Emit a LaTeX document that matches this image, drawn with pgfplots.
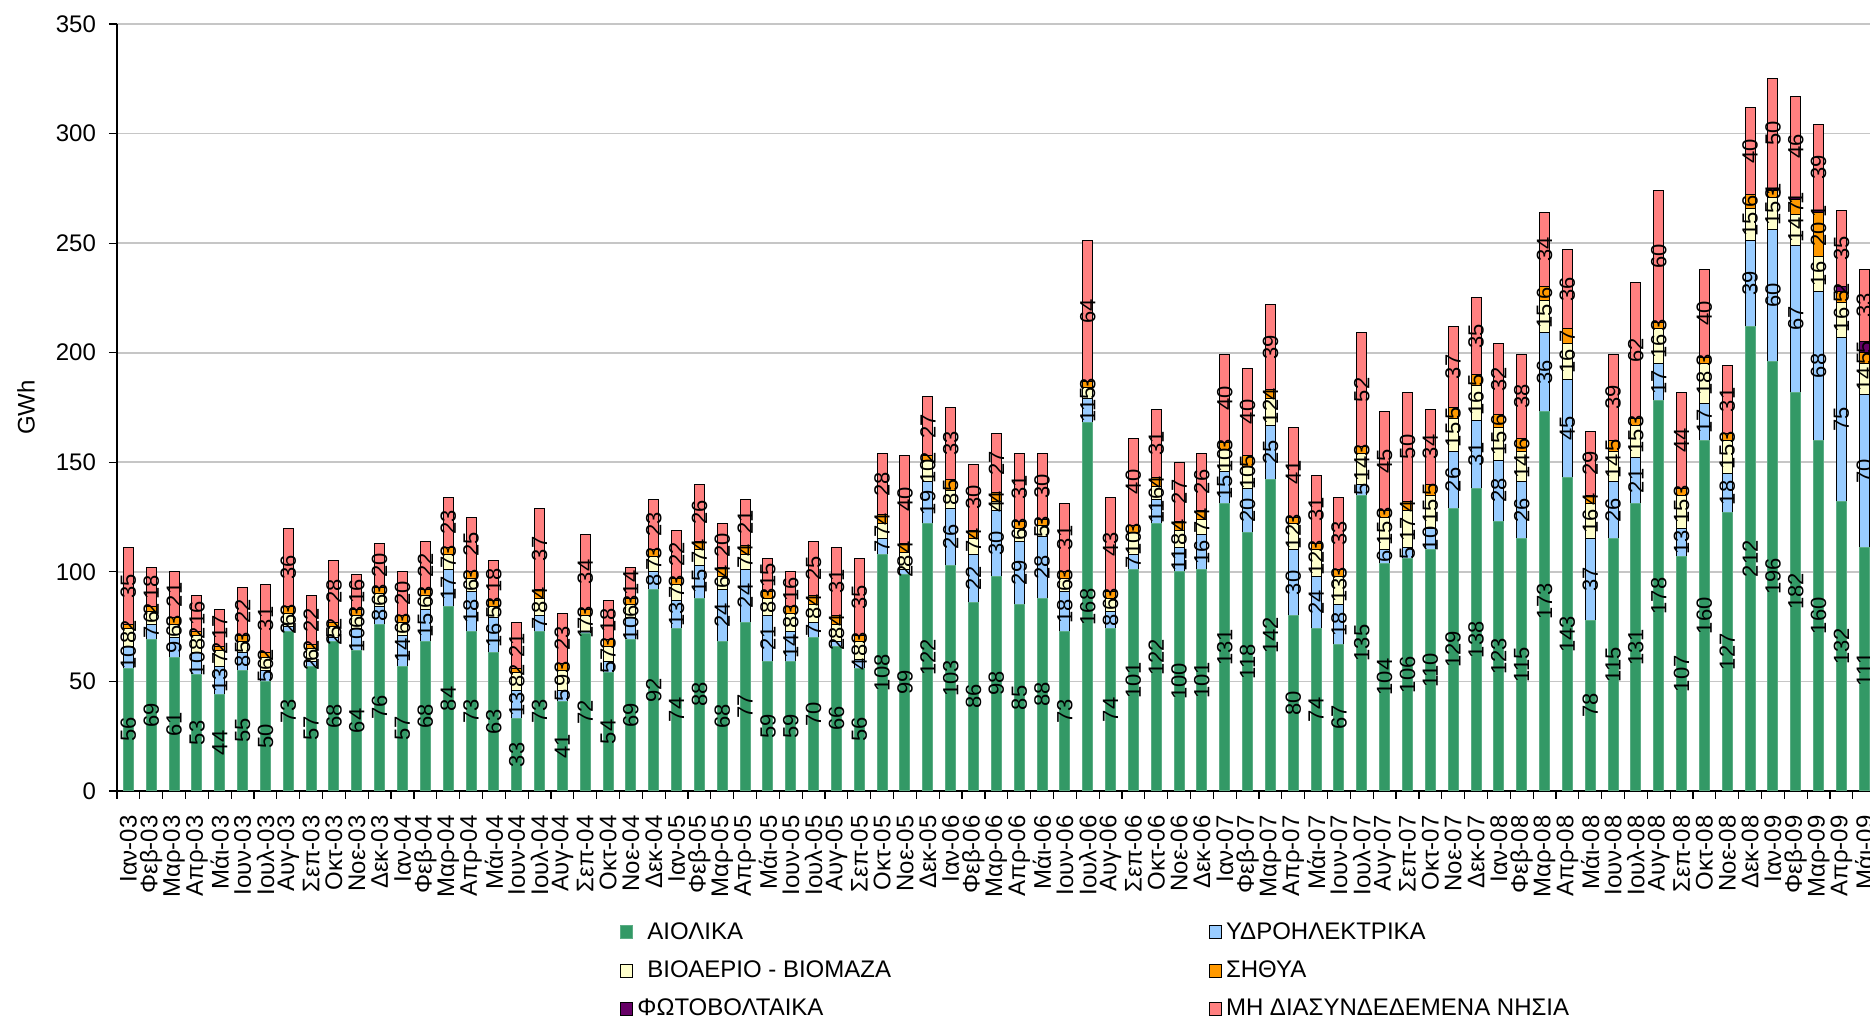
\documentclass[border=0pt]{standalone}
\usepackage{fontspec}
\setmainfont{Liberation Sans}
\usepackage{pgfplots}
\usepackage{pgfplotstable}
\pgfplotsset{compat=1.18}

\definecolor{wind}{HTML}{339966}
\definecolor{hydro}{HTML}{99CCFF}
\definecolor{bio}{HTML}{FFFFCC}
\definecolor{chp}{HTML}{FF9900}
\definecolor{pv}{HTML}{660066}
\definecolor{isl}{HTML}{FF8080}

% monthly GWh: wind, hydro, biogas-biomass, CHP, PV, non-interconnected islands
\pgfplotstableread{
x wi hy bm ch pvv is
0 56 10 8 2 0 35
1 69 7 6 2 0 18
2 61 9 6 3 0 21
3 53 10 8 2 0 16
4 44 13 7 2 0 17
5 55 8 5 3 0 22
6 50 5 6 2 0 31
7 73 2 6 3 0 36
8 57 2 6 2 0 22
9 68 2 5 2 0 28
10 64 10 6 3 0 16
11 76 8 6 3 0 20
12 57 14 6 3 0 20
13 68 15 6 3 0 22
14 84 17 7 3 0 23
15 73 18 6 3 0 25
16 63 16 5 3 0 18
17 33 13 8 2 0 21
18 73 7 8 4 0 37
19 41 5 9 3 0 23
20 72 1 7 3 0 34
21 54 5 7 3 0 18
22 69 10 6 3 0 14
23 92 8 7 3 0 23
24 74 13 7 3 0 22
25 88 15 7 4 0 26
26 68 24 6 4 0 20
27 77 24 7 4 0 21
28 59 21 8 3 0 15
29 59 14 8 3 0 16
30 70 7 8 4 0 25
31 66 2 8 4 0 31
32 56 4 8 3 0 35
33 108 7 7 4 0 28
34 99 2 8 4 0 40
35 122 19 10 2 0 27
36 103 26 8 5 0 33
37 86 22 7 4 0 30
38 98 30 4 4 0 27
39 85 29 6 3 0 31
40 88 28 5 3 0 30
41 73 18 6 3 0 31
42 168 11 5 3 0 64
43 74 8 6 3 0 43
44 101 7 10 3 0 40
45 122 11 6 4 0 31
46 100 11 8 4 0 27
47 101 16 7 4 0 26
48 131 15 10 3 0 40
49 118 20 10 5 0 40
50 142 25 12 4 0 39
51 80 30 12 3 0 41
52 74 24 12 3 0 31
53 67 18 13 3 0 33
54 135 5 14 3 0 52
55 104 6 15 3 0 45
56 106 5 17 4 0 50
57 110 10 15 5 0 34
58 129 26 15 5 0 37
59 138 31 16 5 0 35
60 123 28 15 6 0 32
61 115 26 14 6 0 38
62 173 36 15 6 0 34
63 143 45 16 7 0 36
64 78 37 16 4 0 29
65 115 26 14 5 0 39
66 131 21 15 3 0 62
67 178 17 16 3 0 60
68 107 13 15 3 0 44
69 160 17 18 3 0 40
70 127 18 15 3 0 31
71 212 39 15 6 0 40
72 196 60 15 3 1 50
73 182 67 14 7 1 46
74 160 68 16 20 1 39
75 132 75 16 5 2 35
76 111 70 14 5 5 33
}\data

\pgfplotsset{
  frame/.style={
    at={(0pt,0pt)}, anchor=south west,
    scale only axis, width=876.5pt, height=383.5pt,
    xmin=-0.5, xmax=76.25, ymin=0, ymax=350,
    /pgf/number format/assume math mode=true,
  },
  lbl/.style={
    draw=none, mark=none, only marks,
    point meta=\thisrow{#1},
    nodes near coords={\pgfmathfloatifflags{\pgfplotspointmeta}{0}{}{\pgfmathprintnumber{\pgfplotspointmeta}}},
    every node near coord/.append style={rotate=90, anchor=center, text=black,
      inner sep=0pt, font=\fontsize{11}{13}\selectfont},
  },
}

\begin{document}
\begin{tikzpicture}
\useasboundingbox (-58.5pt,-114.5pt) rectangle (876.5pt,395.5pt);
\begin{axis}[
  frame,
  ybar stacked, bar width=5pt,
  axis x line*=bottom, axis y line*=left,
  axis line style={black, line width=0.7pt},
  ytick={0,50,...,350},
  ymajorgrids, grid style={draw=gray!45, line width=0.9pt},
  xtick={0,...,76},
  xticklabels={Ιαν-03,Φεβ-03,Μαρ-03,Απρ-03,Μάι-03,Ιουν-03,Ιουλ-03,Αυγ-03,Σεπ-03,Οκτ-03,Νοε-03,Δεκ-03,
    Ιαν-04,Φεβ-04,Μαρ-04,Απρ-04,Μάι-04,Ιουν-04,Ιουλ-04,Αυγ-04,Σεπ-04,Οκτ-04,Νοε-04,Δεκ-04,
    Ιαν-05,Φεβ-05,Μαρ-05,Απρ-05,Μάι-05,Ιουν-05,Ιουλ-05,Αυγ-05,Σεπ-05,Οκτ-05,Νοε-05,Δεκ-05,
    Ιαν-06,Φεβ-06,Μαρ-06,Απρ-06,Μάι-06,Ιουν-06,Ιουλ-06,Αυγ-06,Σεπ-06,Οκτ-06,Νοε-06,Δεκ-06,
    Ιαν-07,Φεβ-07,Μαρ-07,Απρ-07,Μάι-07,Ιουν-07,Ιουλ-07,Αυγ-07,Σεπ-07,Οκτ-07,Νοε-07,Δεκ-07,
    Ιαν-08,Φεβ-08,Μαρ-08,Απρ-08,Μάι-08,Ιουν-08,Ιουλ-08,Αυγ-08,Σεπ-08,Οκτ-08,Νοε-08,Δεκ-08,
    Ιαν-09,Φεβ-09,Μαρ-09,Απρ-09,Μάι-09},
  major x tick style={draw=none},
  minor xtick={-0.5,0.5,...,75.5},
  minor x tick style={black, line width=0.6pt},
  y tick style={black, line width=0.6pt},
  tick align=outside, major tick length=4pt, minor tick length=4pt,
  xticklabel style={rotate=90, anchor=east, inner xsep=8pt, font=\fontsize{12}{14}\selectfont},
  yticklabel style={font=\fontsize{12}{14}\selectfont, xshift=-3pt},
  ylabel={GWh},
  every axis y label/.style={at={(axis description cs:-0.0519,0.5)}, rotate=90,
    anchor=center, font=\fontsize{12}{14}\selectfont},
  legend columns=2,
  legend cell align=left,
  legend image code/.code={\draw[#1] (0pt,-3.2pt) rectangle (6pt,3.2pt);},
  legend style={at={(axis description cs:0,0)}, anchor=north west,
    xshift=251.5pt, yshift=-63.5pt, draw=none, fill=none, inner sep=0pt,
    row sep=5.3pt, font=\fontsize{12}{14}\selectfont,
    /tikz/every even column/.append style={column sep=157pt}},
]
\addplot[fill=wind, draw=wind!80!white, line width=0.5pt] table[x=x, y=wi] {\data};
\addplot[fill=hydro, draw=black, line width=0.5pt] table[x=x, y=hy] {\data};
\addplot[fill=bio, draw=black, line width=0.5pt] table[x=x, y=bm] {\data};
\addplot[fill=chp, draw=black, line width=0.5pt] table[x=x, y=ch] {\data};
\addplot[fill=pv, draw=black, line width=0.5pt] table[x=x, y=pvv] {\data};
\addplot[fill=isl, draw=black, line width=0.5pt] table[x=x, y=is] {\data};
\legend{\hspace{5pt}ΑΙΟΛΙΚΑ, ΥΔΡΟΗΛΕΚΤΡΙΚΑ, \hspace{5pt}ΒΙΟΑΕΡΙΟ - ΒΙΟΜΑΖΑ, ΣΗΘΥΑ, ΦΩΤΟΒΟΛΤΑΙΚΑ, ΜΗ ΔΙΑΣΥΝΔΕΔΕΜΕΝΑ ΝΗΣΙΑ}
\end{axis}
\begin{axis}[frame, hide axis, clip=false]
\addplot[lbl=wi] table[x=x, y expr=\thisrow{wi}/2] {\data};
\addplot[lbl=hy] table[x=x, y expr=\thisrow{wi}+\thisrow{hy}/2] {\data};
\addplot[lbl=bm] table[x=x, y expr=\thisrow{wi}+\thisrow{hy}+\thisrow{bm}/2] {\data};
\addplot[lbl=ch] table[x=x, y expr=\thisrow{wi}+\thisrow{hy}+\thisrow{bm}+\thisrow{ch}/2] {\data};
\addplot[lbl=pvv] table[x=x, y expr=\thisrow{wi}+\thisrow{hy}+\thisrow{bm}+\thisrow{ch}+\thisrow{pvv}/2] {\data};
\addplot[lbl=is] table[x=x, y expr=\thisrow{wi}+\thisrow{hy}+\thisrow{bm}+\thisrow{ch}+\thisrow{pvv}+\thisrow{is}/2] {\data};
\end{axis}
\end{tikzpicture}
\end{document}
